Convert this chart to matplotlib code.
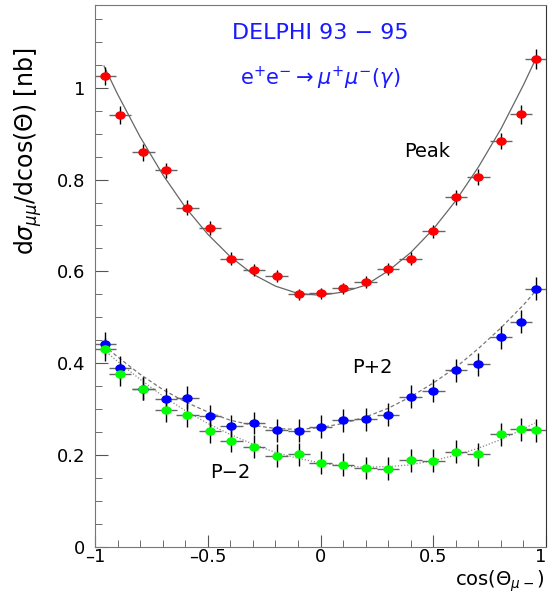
import matplotlib
matplotlib.use("Agg")
import matplotlib.pyplot as plt
from matplotlib.path import Path
from matplotlib.transforms import Affine2D
from matplotlib.ticker import MultipleLocator

plt.rcParams['font.family'] = ['DejaVu Sans']
plt.rcParams['mathtext.fontset'] = 'dejavusans'

# bin centres of cos(theta)
cos_theta = [-0.955, -0.89, -0.785, -0.685, -0.59, -0.49, -0.395, -0.295, -0.195, -0.095,
             0.0, 0.1, 0.2, 0.3, 0.4, 0.5, 0.6, 0.7, 0.8, 0.89, 0.955]
bin_half_width = 0.05

peak = [1.026, 0.941, 0.859, 0.820, 0.739, 0.694, 0.628, 0.604, 0.589, 0.550,
        0.552, 0.563, 0.577, 0.606, 0.628, 0.687, 0.761, 0.806, 0.884, 0.942, 1.062]
peak_err = [0.020, 0.019, 0.018, 0.017, 0.016, 0.015, 0.014, 0.013, 0.013, 0.012,
            0.012, 0.012, 0.013, 0.013, 0.014, 0.015, 0.016, 0.017, 0.018, 0.020, 0.022]

pplus2 = [0.443, 0.390, 0.345, 0.322, 0.325, 0.285, 0.263, 0.270, 0.254, 0.253,
          0.262, 0.276, 0.278, 0.288, 0.327, 0.340, 0.385, 0.398, 0.457, 0.490, 0.562]
pplus2_err = [0.025] * 21

pminus2 = [0.430, 0.376, 0.345, 0.298, 0.287, 0.252, 0.231, 0.218, 0.199, 0.202,
           0.183, 0.179, 0.172, 0.170, 0.189, 0.188, 0.207, 0.202, 0.245, 0.256, 0.254]
pminus2_err = [0.025] * 21

# fitted curves
curve_x = [-0.96, -0.9, -0.8, -0.7, -0.6, -0.5, -0.4, -0.3, -0.2, -0.1, 0.0,
           0.1, 0.2, 0.3, 0.4, 0.5, 0.6, 0.7, 0.8, 0.9, 0.95]
peak_fit = [1.047, 0.986, 0.893, 0.811, 0.740, 0.681, 0.632, 0.594, 0.568, 0.552, 0.548,
            0.555, 0.570, 0.601, 0.641, 0.692, 0.754, 0.827, 0.910, 1.006, 1.058]
pplus2_fit = [0.439, 0.414, 0.376, 0.343, 0.316, 0.294, 0.276, 0.265, 0.258, 0.256, 0.260,
              0.269, 0.283, 0.302, 0.327, 0.357, 0.391, 0.432, 0.477, 0.527, 0.555]
pminus2_fit = [0.429, 0.404, 0.365, 0.329, 0.297, 0.269, 0.245, 0.224, 0.206, 0.193, 0.183,
               0.176, 0.174, 0.175, 0.179, 0.188, 0.200, 0.215, 0.234, 0.257, 0.270]

# slightly flattened ellipse marker like the original
ellipse = Path.unit_circle().transformed(Affine2D().scale(1.0, 0.78))

fig = plt.figure(figsize=(5.48, 5.95), dpi=100)
ax = fig.add_axes([95 / 548, 48 / 595, 451 / 548, 542 / 595])

ax.plot(curve_x, peak_fit, color='#666666', lw=0.9, zorder=1)
ax.plot(curve_x, pplus2_fit, color='#777777', lw=0.9, ls=(0, (3, 2)), zorder=1)
ax.plot(curve_x, pminus2_fit, color='#888888', lw=0.9, ls=(0, (1, 1.5)), zorder=1)

for y, yerr, col in [(peak, peak_err, '#ff0000'),
                     (pplus2, pplus2_err, '#0000ff'),
                     (pminus2, pminus2_err, '#00ff00')]:
    ax.errorbar(cos_theta, y, xerr=bin_half_width, fmt='none', ecolor='#666666',
                elinewidth=1.0, capsize=0, zorder=2)
    ax.errorbar(cos_theta, y, yerr=yerr, fmt='none', ecolor='black',
                elinewidth=1.0, capsize=0, zorder=2)
    ax.plot(cos_theta, y, ls='none', marker=ellipse, ms=6.5, color=col, mec=col, zorder=3)

ax.set_xlim(-1, 1)
ax.set_ylim(0, 1.18)
ax.xaxis.set_minor_locator(MultipleLocator(0.1))
ax.yaxis.set_minor_locator(MultipleLocator(0.05))
ax.set_xticks([-1, -0.5, 0, 0.5, 1])
ax.set_xticklabels(['\u20131', '\u20130.5', '0', '0.5', '1'])
ax.get_xticklabels()[-1].set_ha('right')
ax.set_yticks([0, 0.2, 0.4, 0.6, 0.8, 1.0])
ax.set_yticklabels(['0', '0.2', '0.4', '0.6', '0.8', '1'])
ax.tick_params(which='both', direction='in', top=False, right=False,
               labelsize=13, color='#555555')
ax.tick_params(which='major', length=9)
ax.tick_params(axis='y', which='major', pad=7)
ax.tick_params(axis='x', which='major', pad=1)
ax.tick_params(which='minor', length=5)
for side in ['left', 'bottom', 'top']:
    ax.spines[side].set_color('#777777')
ax.spines['right'].set_color('#333333')

ax.set_ylabel(r'd$\sigma_{\mu\mu}$/dcos($\Theta$) [nb]', fontsize=17)
ax.yaxis.set_label_coords(-0.112, 0.73)
fig.text(545 / 548, 1 - 581 / 595, r'cos($\Theta_{\mu-}$)', fontsize=14,
         ha='right', va='center')

ax.text(0.0, 1.12, 'DELPHI 93 \u2212 95', color='#1a1aff', fontsize=16,
        ha='center', va='center')
ax.text(0.0, 1.02, r'e$^{+}$e$^{-}\rightarrow\mu^{+}\mu^{-}(\gamma)$', color='#1a1aff',
        fontsize=15, ha='center', va='center')
ax.text(0.475, 0.86, 'Peak', fontsize=14, ha='center', va='center')
ax.text(0.23, 0.39, 'P+2', fontsize=14, ha='center', va='center')
ax.text(-0.40, 0.163, 'P\u22122', fontsize=14, ha='center', va='center')

fig.savefig('out.png', dpi=100)
